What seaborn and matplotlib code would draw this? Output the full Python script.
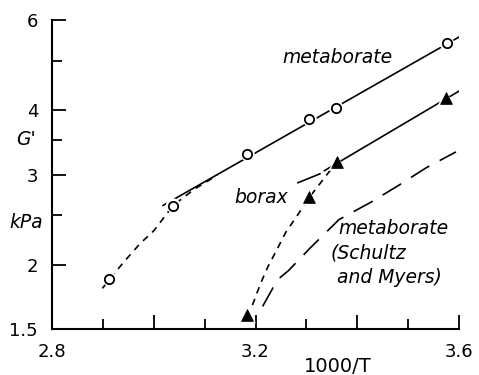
"""G' vs 1000/T : metaborate and borax gels."""

import matplotlib
matplotlib.use("Agg")
import matplotlib.pyplot as plt
import matplotlib.ticker as mticker
import seaborn as sns

# measured points
meta_x = [2.912, 3.038, 3.184, 3.306, 3.358, 3.576]
meta_y = [1.88, 2.61, 3.29, 3.85, 4.05, 5.41]
borax_x = [3.184, 3.306, 3.360, 3.574]
borax_y = [1.60, 2.71, 3.17, 4.23]

# fitted lines
meta_fit_x = [3.018, 3.618]
meta_fit_y = [2.61, 5.69]
borax_fit_x = [3.335, 3.620]
borax_fit_y = [3.05, 4.48]
borax_ext_x = [3.283, 3.327]
borax_ext_y = [2.89, 3.01]

# hand-drawn curves
meta_low_x = [2.899, 2.940, 2.973, 3.000, 3.038, 3.080, 3.125]
meta_low_y = [1.80, 2.02, 2.20, 2.33, 2.61, 2.81, 2.99]
borax_low_x = [3.194, 3.210, 3.224, 3.244, 3.259, 3.285, 3.306, 3.335, 3.362]
borax_low_y = [1.67, 1.84, 1.98, 2.16, 2.31, 2.52, 2.71, 2.95, 3.20]
sm_x = [3.214, 3.243, 3.265, 3.308, 3.364, 3.427, 3.482, 3.535, 3.594]
sm_y = [1.66, 1.87, 1.95, 2.16, 2.45, 2.65, 2.86, 3.09, 3.32]

y_major = [1.5, 2, 3, 4, 6]
y_major_labels = ["1.5", "2", "3", "4", "6"]
y_minor = [2.5, 3.5, 5]
x_major = [2.8, 3.0, 3.2, 3.4, 3.6]
x_major_labels = ["2.8", "", "3.2", "", "3.6"]
x_minor = [2.9, 3.1, 3.3, 3.5]

sns.set_style("ticks")
plt.rcParams["font.family"] = ["DejaVu Sans"]
plt.rcParams["text.color"] = "black"

fig = plt.figure(figsize=(4.79, 3.75), dpi=100)
ax = fig.add_axes([52 / 479, 46 / 375, 407 / 479, 309 / 375])

lw = 1.2
sns.lineplot(x=meta_fit_x, y=meta_fit_y, color="black", lw=lw, ax=ax, zorder=2)
sns.lineplot(x=borax_fit_x, y=borax_fit_y, color="black", lw=lw, ax=ax, zorder=2)
sns.lineplot(x=borax_ext_x, y=borax_ext_y, color="black", lw=lw, ax=ax, zorder=2)

sns.lineplot(x=meta_low_x, y=meta_low_y, color="black", lw=lw, ax=ax, zorder=2)
ax.lines[-1].set_dashes([4, 3.5])
sns.lineplot(x=borax_low_x, y=borax_low_y, color="black", lw=lw, ax=ax, zorder=2)
ax.lines[-1].set_dashes([4, 3.5])
sns.lineplot(x=sm_x, y=sm_y, color="black", lw=lw, ax=ax, zorder=2)
ax.lines[-1].set_dashes([13, 7])

# white halo so the lines stop short of the symbols
sns.scatterplot(x=meta_x, y=meta_y, s=110, color="white", edgecolor="none",
                ax=ax, zorder=3)
sns.scatterplot(x=borax_x, y=borax_y, marker="^", s=150, color="white",
                edgecolor="none", ax=ax, zorder=3)
sns.scatterplot(x=meta_x, y=meta_y, s=45, facecolor="white",
                edgecolor="black", linewidth=1.3, ax=ax, zorder=4)
sns.scatterplot(x=borax_x, y=borax_y, marker="^", s=70, color="black",
                edgecolor="black", ax=ax, zorder=4)

ax.set_yscale("log")
ax.set_xlim(2.8, 3.6)
ax.set_ylim(1.5, 6)
ax.yaxis.set_major_locator(mticker.FixedLocator(y_major))
ax.yaxis.set_major_formatter(mticker.FixedFormatter(y_major_labels))
ax.yaxis.set_minor_locator(mticker.FixedLocator(y_minor))
ax.yaxis.set_minor_formatter(mticker.NullFormatter())
ax.xaxis.set_major_locator(mticker.FixedLocator(x_major))
ax.xaxis.set_major_formatter(mticker.FixedFormatter(x_major_labels))
ax.xaxis.set_minor_locator(mticker.FixedLocator(x_minor))

sns.despine(ax=ax)
for side in ("left", "bottom"):
    ax.spines[side].set_linewidth(1.5)
    ax.spines[side].set_color("black")
ax.tick_params(which="major", direction="in", length=10, width=1.3,
               labelsize=13, colors="black")
ax.tick_params(which="minor", direction="in", length=7, width=1.3,
               colors="black")
ax.tick_params(axis="y", which="major", pad=10)
ax.tick_params(axis="x", which="major", pad=10)
ax.set_xlabel("")
ax.set_ylabel("")

fs = 13.5
ax.text(3.361, 5.06, "metaborate", style="italic", fontsize=fs,
        ha="center", va="center")
ax.text(3.211, 2.70, "borax", style="italic", fontsize=fs,
        ha="center", va="center")
ax.text(3.362, 2.35, "metaborate", style="italic", fontsize=fs,
        ha="left", va="center")
ax.text(3.347, 2.11, "(Schultz", style="italic", fontsize=fs,
        ha="left", va="center")
ax.text(3.361, 1.89, "and Myers)", style="italic", fontsize=fs,
        ha="left", va="center")

fig.text(26 / 479, 1 - 140 / 375, "G'", style="italic", fontsize=13.5,
         ha="center", va="center")
fig.text(26 / 479, 1 - 222 / 375, "kPa", style="italic", fontsize=13.5,
         ha="center", va="center")
fig.text(338 / 479, 1 - 367 / 375, "1000/T", fontsize=14,
         ha="center", va="center")

fig.savefig("out.png", dpi=100)
